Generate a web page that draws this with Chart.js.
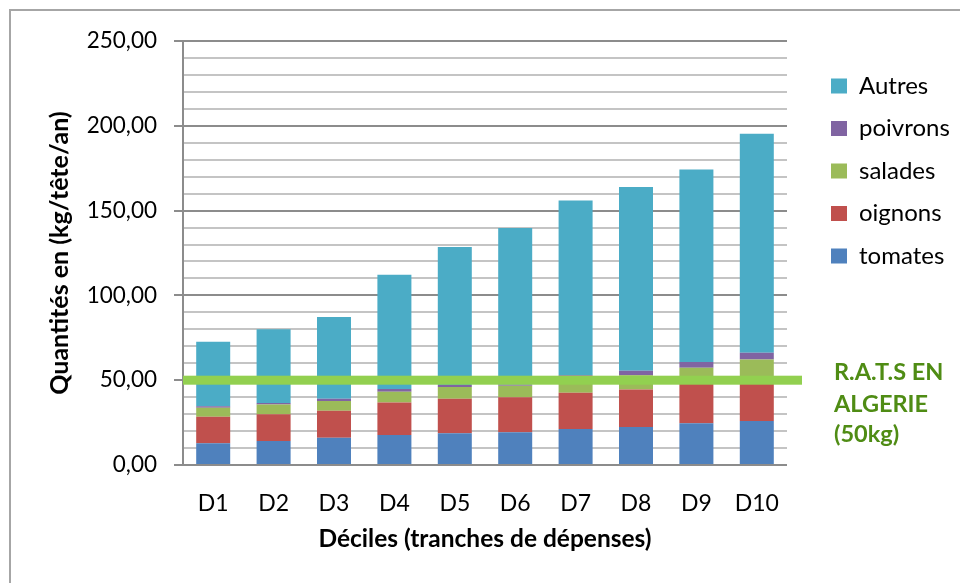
<!DOCTYPE html>
<html>
<head>
<meta charset="utf-8">
<script src="https://cdn.jsdelivr.net/npm/chart.js@4/dist/chart.umd.min.js"></script>
<style>
body{margin:0;background:#fff;}
#wrap{width:960px;height:583px;position:relative;}
</style>
</head>
<body>
<div id="wrap"><canvas id="chart"></canvas></div>
<script>
const deciles=['D1','D2','D3','D4','D5','D6','D7','D8','D9','D10'];
const tomates=[12.8,14.1,16.1,17.7,18.7,19.3,21.2,22.4,24.6,25.9];
const oignons=[15.7,15.8,15.9,19.2,20.4,20.7,21.4,22.1,23.4,22.1];
const salades=[5.3,5.7,5.7,6.3,6.9,6.8,9.5,8.4,9.3,14.2];
const poivrons=[0.8,0.9,1.4,1.6,1.2,0.6,0.8,2.6,3.5,4.0];
const autres=[38.1,43.5,48.2,67.4,81.4,92.4,103.0,108.4,113.5,129.1];
const yTicks=[0,50,100,150,200,250];
const RATS=50;
const ratsLabel=['R.A.T.S EN','ALGERIE','(50kg)'];

Chart.defaults.font.family="Lato";
Chart.defaults.color="#000";

// cadre gris en haut et a gauche
const framePlugin={
    id:'frame',
    beforeDraw(chart){
        const c=chart.ctx;
        c.save();
        c.strokeStyle="#a6a6a6";
        c.lineWidth=2;
        c.beginPath();
        c.moveTo(10,583);c.lineTo(10,10);c.lineTo(960,10);
        c.stroke();
        c.restore();
    }
};

// legende : largeur fixe et position
const legendPlugin={
    id:'legendPos',
    afterInit(chart){
        const lg=chart.legend;
        const fit=lg.fit.bind(lg);
        lg.fit=function(){fit();this.width=173;};
    },
    afterLayout(chart){
        const lg=chart.legend;
        const pad=lg.options.labels.padding;
        lg.left=831-pad;
        lg.top=74-pad;
    }
};

// ligne R.A.T.S
const ratsPlugin={
    id:'rats',
    afterDatasetsDraw(chart){
        const c=chart.ctx;
        const y=chart.scales.y.getPixelForValue(RATS);
        const a=chart.chartArea;
        c.save();
        c.fillStyle="#92D050";
        c.fillRect(a.left,y-4.5,a.right+15-a.left,9);
        c.fillStyle="#4f8c14";
        c.font="bold 23.5px Lato";
        c.textBaseline="alphabetic";
        ratsLabel.forEach((t,i)=>{c.fillText(t,834,y+[0,32,62][i]);});
        c.restore();
    }
};

const ctx=document.getElementById("chart");

new Chart(ctx,{
    type:'bar',
    data:{
        labels:deciles,
        datasets:[
            {label:'tomates',data:tomates,backgroundColor:'#4F81BD'},
            {label:'oignons',data:oignons,backgroundColor:'#C0504D'},
            {label:'salades',data:salades,backgroundColor:'#9BBB59'},
            {label:'poivrons',data:poivrons,backgroundColor:'#8064A2'},
            {label:'Autres',data:autres,backgroundColor:'#4BACC6'}
        ]
    },
    options:{
        responsive:true,
        maintainAspectRatio:false,
        animation:false,
        layout:{padding:{top:41,left:10,right:0,bottom:0}},
        datasets:{bar:{barPercentage:0.563,categoryPercentage:1,borderWidth:0}},
        plugins:{
            tooltip:{enabled:false},
            legend:{
                position:'right',
                align:'start',
                reverse:true,
                labels:{boxWidth:16,boxHeight:15,padding:18.5,font:{size:24}}
            }
        },
        scales:{
            x:{
                stacked:true,
                grid:{display:false,drawTicks:false},
                border:{display:false},
                ticks:{padding:25,font:{size:23}},
                title:{display:true,text:'Déciles (tranches de dépenses)',font:{size:24.5,weight:'bold'},padding:{top:0,bottom:29}},
                afterFit(s){s.height=118;}
            },
            y:{
                stacked:true,
                min:0,
                max:250,
                ticks:{
                    stepSize:10,
                    autoSkip:false,
                    maxTicksLimit:40,
                    padding:17,
                    font:{size:22.5},
                    callback:(v)=>yTicks.includes(v)?v.toFixed(2).replace('.',','):''
                },
                grid:{
                    color:(c)=>c.tick&&c.tick.value%50===0?'#8c8c8c':'#c4c4c4',
                    tickColor:(c)=>c.tick&&c.tick.value%50===0?'#8c8c8c':'rgba(0,0,0,0)',
                    tickLength:9,
                    lineWidth:2
                },
                border:{color:'#8c8c8c',width:2},
                title:{display:true,text:'Quantités en (kg/tête/an)',font:{size:25,weight:'bold'},padding:{top:35,bottom:0}},
                afterFit(s){s.width=173;}
            }
        }
    },
    plugins:[framePlugin,legendPlugin,ratsPlugin]
});
</script>
</body>
</html>
